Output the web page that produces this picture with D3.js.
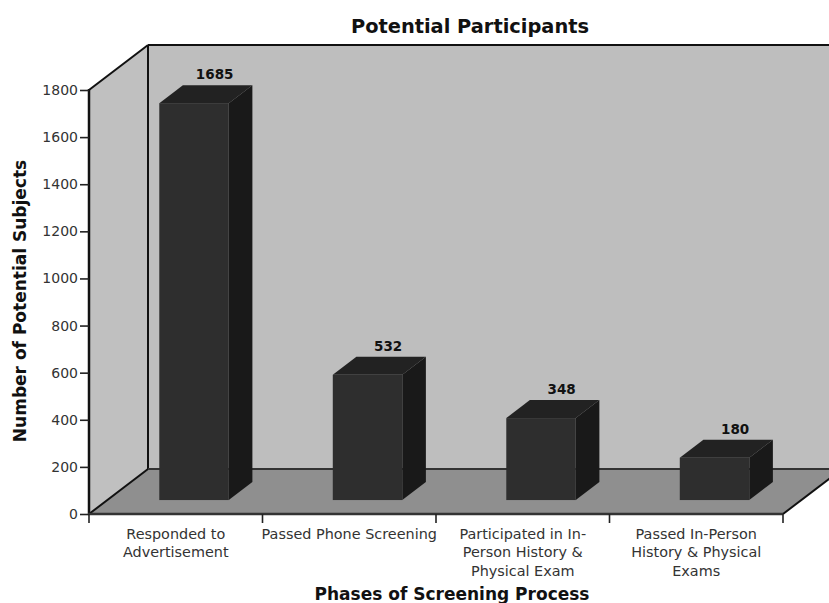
<!DOCTYPE html>
<html>
<head>
<meta charset="utf-8">
<script src="https://cdn.jsdelivr.net/npm/d3@7/dist/d3.min.js"></script>
<style>
html,body{margin:0;padding:0;background:#fff;overflow:hidden}
svg{display:block}
text{font-family:"DejaVu Sans",Verdana,sans-serif}
</style>
</head>
<body>
<div id="chart"></div>
<script>
// Screening funnel data
const categories = [
  ["Responded to", "Advertisement"],
  ["Passed Phone Screening"],
  ["Participated in In-", "Person History &", "Physical Exam"],
  ["Passed In-Person", "History & Physical", "Exams"]
];
const values = [1685, 532, 348, 180];
const yTicks = [0, 200, 400, 600, 800, 1000, 1200, 1400, 1600, 1800];
const chartTitle = "Potential Participants";
const xTitle = "Phases of Screening Process";
const yTitle = "Number of Potential Subjects";

const W = 829, H = 603;
const svg = d3.select("#chart").append("svg").attr("width", W).attr("height", H);

// Front plane of the plot box and the oblique depth vector
const x = d3.scaleBand().domain(d3.range(values.length)).range([89, 783]);
const y = d3.scaleLinear().domain([0, 1800]).range([514, 90]);
const depth = { dx: 59, dy: -45 };
const barInset = 0.31;     // how far into the floor the bars stand
const barDepth = 0.40;     // bar thickness as a share of the box depth
const barWidth = 69.5;

const poly = pts => pts.map(p => p.join(",")).join(" ");
const [x0, x1] = x.range();
const yb = y(0), yt = y(1800);

// Back wall, side wall, floor
svg.append("polygon").attr("fill", "#bebebe")
  .attr("points", poly([[x0 + depth.dx, yt + depth.dy], [x1 + depth.dx, yt + depth.dy], [x1 + depth.dx, yb + depth.dy], [x0 + depth.dx, yb + depth.dy]]));
svg.append("polygon").attr("fill", "#c0c0c0")
  .attr("points", poly([[x0, yt], [x0 + depth.dx, yt + depth.dy], [x0 + depth.dx, yb + depth.dy], [x0, yb]]));
svg.append("polygon").attr("fill", "#8f8f8f")
  .attr("points", poly([[x0, yb], [x0 + depth.dx, yb + depth.dy], [x1 + depth.dx, yb + depth.dy], [x1, yb]]));

// Box edges
const edge = (a, b, w, c) => svg.append("line")
  .attr("x1", a[0]).attr("y1", a[1]).attr("x2", b[0]).attr("y2", b[1])
  .attr("stroke", c || "#111").attr("stroke-width", w);
edge([x0 + depth.dx, yt + depth.dy], [x1 + depth.dx, yt + depth.dy], 2);
edge([x0 + depth.dx, yt + depth.dy], [x0 + depth.dx, yb + depth.dy], 2);
edge([x0, yt], [x0 + depth.dx, yt + depth.dy], 2);
edge([x0, yb], [x0 + depth.dx, yb + depth.dy], 2);
edge([x0 + depth.dx, yb + depth.dy], [x1 + depth.dx, yb + depth.dy], 2, "#333");
edge([x1, yb], [x1 + depth.dx, yb + depth.dy], 2);
edge([x0, yt - 1], [x0, yb + 1], 2.5);
edge([x0 - 1, yb], [x1, yb], 2.5, "#333");

// Bars
const bars = svg.append("g").selectAll("g").data(values).join("g");
const frontLeft = (d, i) => x(i) + x.bandwidth() / 2 + depth.dx * barInset - barWidth / 2;
const floorY = yb + depth.dy * barInset;
const topY = d => floorY - (yb - y(d));
const ddx = depth.dx * barDepth, ddy = depth.dy * barDepth;

bars.append("polygon").attr("fill", "#222222").attr("points", (d, i) => {
  const l = frontLeft(d, i), t = topY(d);
  return poly([[l, t], [l + ddx, t + ddy], [l + barWidth + ddx, t + ddy], [l + barWidth, t]]);
});
bars.append("polygon").attr("fill", "#191919").attr("points", (d, i) => {
  const l = frontLeft(d, i) + barWidth, t = topY(d);
  return poly([[l, t], [l + ddx, t + ddy], [l + ddx, floorY + ddy], [l, floorY]]);
});
bars.append("rect").attr("fill", "#2e2e2e")
  .attr("x", frontLeft)
  .attr("y", topY)
  .attr("width", barWidth)
  .attr("height", d => floorY - topY(d));
bars.append("text")
  .attr("x", (d, i) => frontLeft(d, i) + barWidth / 2 + ddx - 3)
  .attr("y", d => topY(d) + ddy - 6)
  .attr("text-anchor", "middle")
  .attr("font-size", 13.5).attr("font-weight", "bold").attr("fill", "#111")
  .text(d => d);

// Value axis
const yAxis = svg.append("g").attr("transform", `translate(${x0},0)`)
  .call(d3.axisLeft(y).tickValues(yTicks).tickSize(9).tickPadding(2).tickFormat(d3.format("d")));
yAxis.select(".domain").remove();
yAxis.selectAll("line").attr("stroke", "#222").attr("stroke-width", 1.6);
yAxis.selectAll("text").attr("font-size", 14).style("font-family", '"DejaVu Sans",Verdana,sans-serif').attr("fill", "#333");

// Category ticks and wrapped labels
const catTicks = d3.range(values.length + 1).map(i => i < values.length ? x(i) : x1);
svg.append("g").selectAll("line").data(catTicks).join("line")
  .attr("x1", d => d).attr("x2", d => d).attr("y1", yb).attr("y2", yb + 9)
  .attr("stroke", "#222").attr("stroke-width", 1.6);

const labels = svg.append("g").selectAll("text").data(categories).join("text")
  .attr("text-anchor", "middle").attr("font-size", 14.4).attr("fill", "#333");
labels.selectAll("tspan").data((d, i) => d.map(line => ({ line, i }))).join("tspan")
  .attr("x", d => x(d.i) + x.bandwidth() / 2)
  .attr("y", (d, j) => 539 + j * 18.3)
  .text(d => d.line);

// Titles
svg.append("text").attr("x", 470).attr("y", 33).attr("text-anchor", "middle")
  .attr("font-size", 19.4).attr("font-weight", "bold").attr("fill", "#111").text(chartTitle);
svg.append("text").attr("x", 452).attr("y", 600).attr("text-anchor", "middle")
  .attr("font-size", 17).attr("font-weight", "bold").attr("fill", "#111").text(xTitle);
svg.append("text").attr("transform", "translate(26,301) rotate(-90)").attr("text-anchor", "middle")
  .attr("font-size", 17).attr("font-weight", "bold").attr("fill", "#111").text(yTitle);
</script>
</body>
</html>
